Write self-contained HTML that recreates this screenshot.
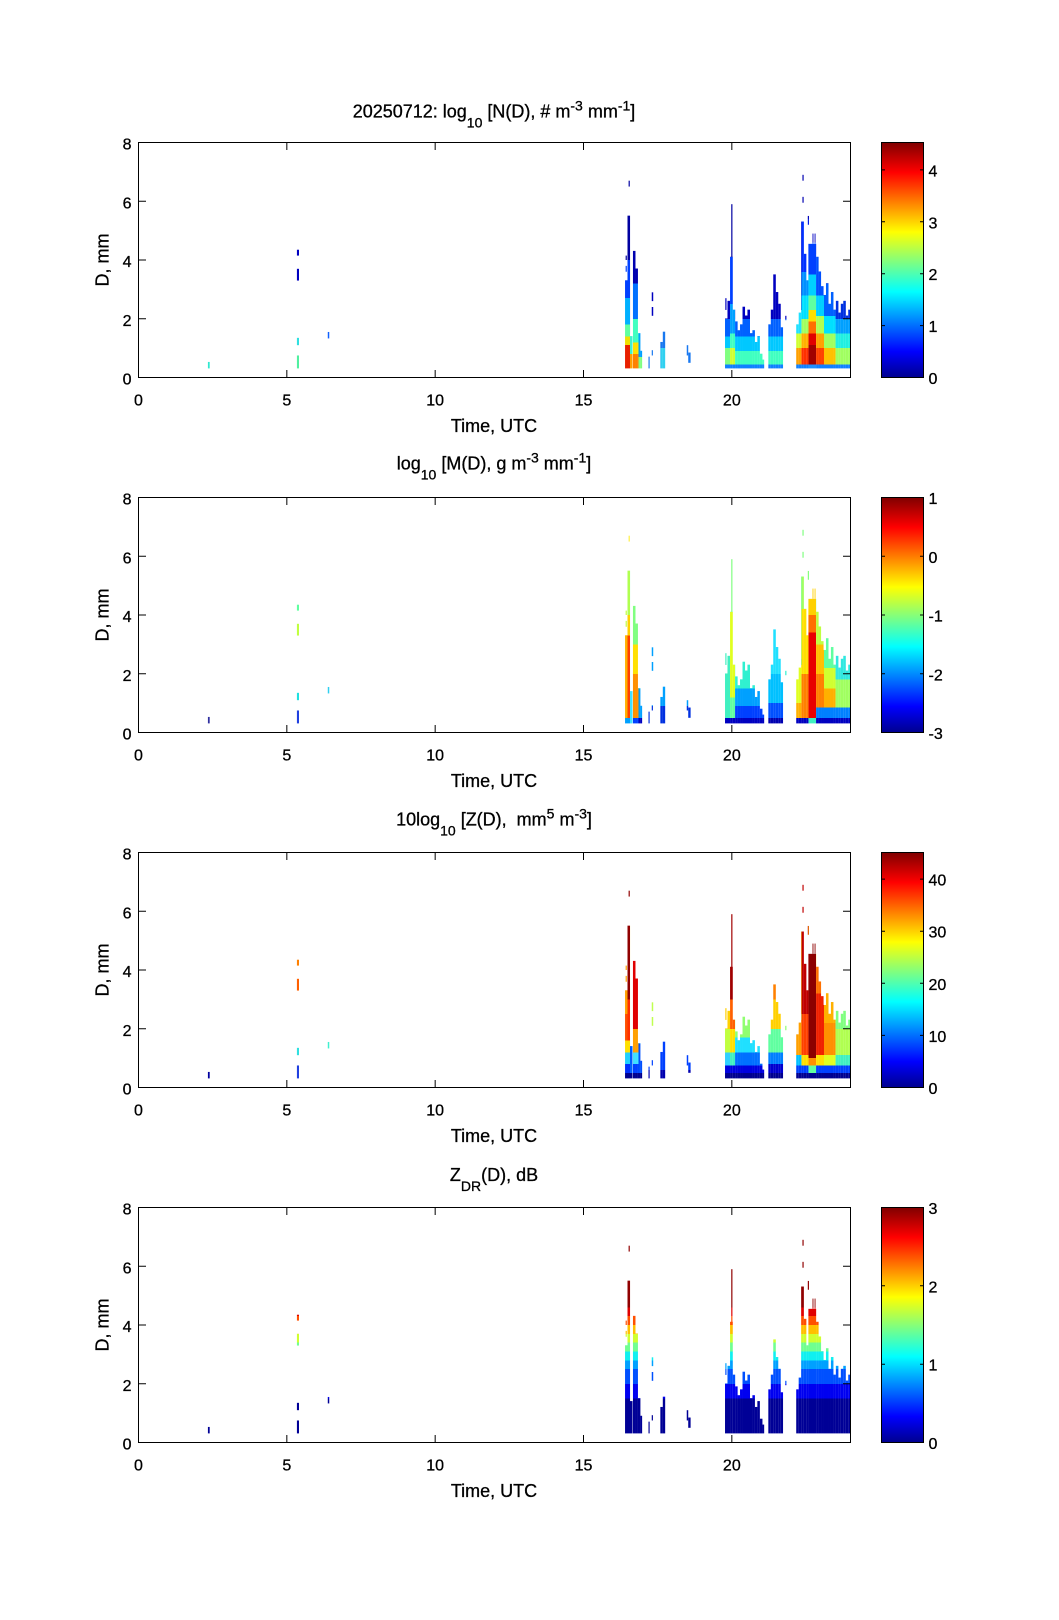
<!DOCTYPE html>
<html><head><meta charset="utf-8"><style>
html,body{margin:0;padding:0;background:#fff;}
svg{display:block;font-family:"Liberation Sans",Arial,Helvetica,sans-serif;}
text{fill:#000;stroke:#000;stroke-width:0.3px;}
</style></head><body>
<svg width="1059" height="1620" viewBox="0 0 1059 1620" xmlns="http://www.w3.org/2000/svg">
<defs>
<linearGradient id="jet" x1="0" y1="1" x2="0" y2="0">
<stop offset="0" stop-color="#00008F"/><stop offset="0.111" stop-color="#0000FF"/><stop offset="0.365" stop-color="#00FFFF"/><stop offset="0.619" stop-color="#FFFF00"/><stop offset="0.873" stop-color="#FF0000"/><stop offset="1" stop-color="#800000"/>
</linearGradient>
<clipPath id="m" clipPathUnits="userSpaceOnUse">
<rect x="2.34" y="0.31" width="0.06" height="0.22"/>
<rect x="5.34" y="0.31" width="0.07" height="0.44"/>
<rect x="5.34" y="1.1" width="0.07" height="0.25"/>
<rect x="5.34" y="3.3" width="0.07" height="0.4"/>
<rect x="5.34" y="4.15" width="0.07" height="0.2"/>
<rect x="6.38" y="1.33" width="0.05" height="0.22"/>
<rect x="16.40" y="0.31" width="0.085" height="3.0"/>
<rect x="16.42" y="3.6" width="0.04" height="0.2"/>
<rect x="16.42" y="4.0" width="0.04" height="0.15"/>
<rect x="16.483" y="0.31" width="0.086" height="5.2"/>
<rect x="16.52" y="6.5" width="0.04" height="0.2"/>
<rect x="16.567" y="0.31" width="0.085" height="1.1"/>
<rect x="16.667" y="0.31" width="0.085" height="4.0"/>
<rect x="16.75" y="0.31" width="0.085" height="3.4"/>
<rect x="16.833" y="0.31" width="0.085" height="1.2"/>
<rect x="16.916" y="0.31" width="0.06" height="0.6"/>
<rect x="17.19" y="0.31" width="0.04" height="0.4"/>
<rect x="17.30" y="2.1" width="0.05" height="0.3"/>
<rect x="17.30" y="2.6" width="0.05" height="0.3"/>
<rect x="17.30" y="0.75" width="0.04" height="0.18"/>
<rect x="17.59" y="0.31" width="0.085" height="0.9"/>
<rect x="17.673" y="0.31" width="0.08" height="1.25"/>
<rect x="18.48" y="0.75" width="0.05" height="0.35"/>
<rect x="18.53" y="0.5" width="0.08" height="0.35"/>
<rect x="19.77" y="0.31" width="0.085" height="1.7"/>
<rect x="19.78" y="2.3" width="0.04" height="0.4"/>
<rect x="19.853" y="0.31" width="0.089" height="2.3"/>
<rect x="19.94" y="0.31" width="0.092" height="3.8"/>
<rect x="19.98" y="4.1" width="0.04" height="1.8"/>
<rect x="20.03" y="0.31" width="0.082" height="2.0"/>
<rect x="20.11" y="0.31" width="0.085" height="1.6"/>
<rect x="20.193" y="0.31" width="0.085" height="1.3"/>
<rect x="20.276" y="0.31" width="0.086" height="1.5"/>
<rect x="20.36" y="0.31" width="0.085" height="2.1"/>
<rect x="20.443" y="0.31" width="0.085" height="1.8"/>
<rect x="20.526" y="0.31" width="0.086" height="2.0"/>
<rect x="20.61" y="0.31" width="0.085" height="1.2"/>
<rect x="20.693" y="0.31" width="0.085" height="1.3"/>
<rect x="20.776" y="0.31" width="0.086" height="0.9"/>
<rect x="20.86" y="0.31" width="0.085" height="1.1"/>
<rect x="20.943" y="0.31" width="0.089" height="0.5"/>
<rect x="21.03" y="0.31" width="0.06" height="0.3"/>
<rect x="21.23" y="0.31" width="0.085" height="1.5"/>
<rect x="21.313" y="0.31" width="0.085" height="2.0"/>
<rect x="21.396" y="0.31" width="0.086" height="3.2"/>
<rect x="21.48" y="0.31" width="0.085" height="2.6"/>
<rect x="21.563" y="0.31" width="0.085" height="2.2"/>
<rect x="21.646" y="0.31" width="0.08" height="1.4"/>
<rect x="21.80" y="1.95" width="0.04" height="0.15"/>
<rect x="22.17" y="0.31" width="0.085" height="1.5"/>
<rect x="22.253" y="0.31" width="0.085" height="1.9"/>
<rect x="22.336" y="0.31" width="0.092" height="5.0"/>
<rect x="22.38" y="5.95" width="0.04" height="0.2"/>
<rect x="22.38" y="6.7" width="0.04" height="0.2"/>
<rect x="22.426" y="0.31" width="0.086" height="3.9"/>
<rect x="22.51" y="0.31" width="0.072" height="3.0"/>
<rect x="22.56" y="5.2" width="0.04" height="0.3"/>
<rect x="22.58" y="0.31" width="0.262" height="4.24"/>
<rect x="22.72" y="4.55" width="0.03" height="0.35"/>
<rect x="22.79" y="4.55" width="0.03" height="0.35"/>
<rect x="22.84" y="0.31" width="0.085" height="3.8"/>
<rect x="22.923" y="0.31" width="0.085" height="3.3"/>
<rect x="23.006" y="0.31" width="0.086" height="2.8"/>
<rect x="23.09" y="0.31" width="0.085" height="2.5"/>
<rect x="23.173" y="0.31" width="0.085" height="2.9"/>
<rect x="23.256" y="0.31" width="0.086" height="2.2"/>
<rect x="23.34" y="0.31" width="0.085" height="2.6"/>
<rect x="23.423" y="0.31" width="0.085" height="2.0"/>
<rect x="23.506" y="0.31" width="0.086" height="2.3"/>
<rect x="23.59" y="0.31" width="0.085" height="1.9"/>
<rect x="23.673" y="0.31" width="0.085" height="2.2"/>
<rect x="23.756" y="0.31" width="0.086" height="2.3"/>
<rect x="23.84" y="0.31" width="0.085" height="1.8"/>
<rect x="23.923" y="0.31" width="0.077" height="2.0"/>
</clipPath>
</defs>
<rect x="0" y="0" width="1059" height="1620" fill="#fff"/>

<!-- PANEL 1 -->
<g>
<g transform="translate(138.5,377.5) scale(29.667,-29.375)"><g clip-path="url(#m)" shape-rendering="crispEdges">
<rect x="0" y="0.3" width="24" height="0.14" fill="#1080FF"/>
<rect x="0" y="0.44" width="24" height="0.46" fill="#40FFC0"/>
<rect x="0" y="0.9" width="24" height="0.5" fill="#00C8FF"/>
<rect x="0" y="1.4" width="24" height="0.6" fill="#0060FF"/>
<rect x="0" y="2.0" width="24" height="6" fill="#0000C0"/>
<rect x="2.3" y="0.3" width="0.15" height="0.3" fill="#30E8D0"/>
<rect x="5.3" y="0.3" width="0.15" height="0.5" fill="#50F0A0"/>
<rect x="5.3" y="1.0" width="0.15" height="0.4" fill="#30E0E0"/>
<rect x="6.3" y="1.2" width="0.2" height="0.5" fill="#1060FF"/>
<rect x="17.1" y="0.3" width="1.6" height="1.7" fill="#1878F0"/>
<rect x="17.6" y="0.3" width="0.2" height="0.7" fill="#30D0F0"/>
<rect x="16.35" y="0.3" width="0.22" height="0.8" fill="#E82000"/>
<rect x="16.35" y="1.1" width="0.22" height="0.3" fill="#F0E000"/>
<rect x="16.35" y="1.4" width="0.22" height="0.4" fill="#60FFA0"/>
<rect x="16.35" y="1.8" width="0.22" height="0.9" fill="#00B0FF"/>
<rect x="16.35" y="2.7" width="0.22" height="1.3" fill="#0040FF"/>
<rect x="16.35" y="4.0" width="0.22" height="4" fill="#0000A0"/>
<rect x="16.57" y="0.3" width="0.08" height="0.5" fill="#FFA000"/>
<rect x="16.57" y="0.8" width="0.08" height="0.7" fill="#40F0D0"/>
<rect x="16.65" y="0.3" width="0.2" height="0.5" fill="#FF8000"/>
<rect x="16.65" y="0.8" width="0.2" height="0.4" fill="#FFE000"/>
<rect x="16.65" y="1.2" width="0.2" height="0.8" fill="#40FFC0"/>
<rect x="16.65" y="2.0" width="0.2" height="1.2" fill="#0070FF"/>
<rect x="16.65" y="3.2" width="0.2" height="4" fill="#0000B0"/>
<rect x="16.85" y="0.3" width="0.15" height="0.4" fill="#80FF80"/>
<rect x="16.85" y="0.7" width="0.15" height="1.3" fill="#00A0FF"/>
<rect x="19.77" y="0.44" width="0.17" height="0.56" fill="#80FF80"/>
<rect x="19.94" y="0.44" width="0.17" height="0.56" fill="#D0FF30"/>
<rect x="19.94" y="1.0" width="0.17" height="0.5" fill="#40FFC0"/>
<rect x="19.94" y="1.5" width="0.17" height="1.0" fill="#00A0FF"/>
<rect x="19.94" y="2.5" width="0.17" height="1.6" fill="#0040FF"/>
<rect x="19.94" y="4.1" width="0.17" height="4" fill="#0000A0"/>
<rect x="22.17" y="0.44" width="0.17" height="0.56" fill="#FFA000"/>
<rect x="22.17" y="1.0" width="0.17" height="0.5" fill="#D0FF30"/>
<rect x="22.17" y="1.5" width="0.17" height="0.8" fill="#20E0FF"/>
<rect x="22.34" y="0.44" width="0.24" height="0.56" fill="#FF3000"/>
<rect x="22.34" y="1.0" width="0.24" height="0.5" fill="#FFB000"/>
<rect x="22.34" y="1.5" width="0.24" height="0.5" fill="#A0FF60"/>
<rect x="22.34" y="2.0" width="0.24" height="0.8" fill="#00E0FF"/>
<rect x="22.34" y="2.8" width="0.24" height="0.8" fill="#0090FF"/>
<rect x="22.34" y="3.6" width="0.24" height="1.8" fill="#0030FF"/>
<rect x="22.34" y="5.4" width="0.24" height="3" fill="#0000B0"/>
<rect x="22.58" y="0.3" width="0.26" height="0.14" fill="#2090FF"/>
<rect x="22.58" y="0.44" width="0.26" height="0.66" fill="#A00000"/>
<rect x="22.58" y="1.1" width="0.26" height="0.4" fill="#E00000"/>
<rect x="22.58" y="1.5" width="0.26" height="0.4" fill="#FF7000"/>
<rect x="22.58" y="1.9" width="0.26" height="0.4" fill="#FFE000"/>
<rect x="22.58" y="2.3" width="0.26" height="0.5" fill="#60FFA0"/>
<rect x="22.58" y="2.8" width="0.26" height="0.7" fill="#00D0FF"/>
<rect x="22.58" y="3.5" width="0.26" height="1.1" fill="#0040FF"/>
<rect x="22.58" y="4.6" width="0.26" height="3" fill="#0000C0"/>
<rect x="22.84" y="0.44" width="0.26" height="0.56" fill="#FF4000"/>
<rect x="22.84" y="1.0" width="0.26" height="0.5" fill="#FFA000"/>
<rect x="22.84" y="1.5" width="0.26" height="0.6" fill="#B0FF50"/>
<rect x="22.84" y="2.1" width="0.26" height="0.7" fill="#00D0FF"/>
<rect x="22.84" y="2.8" width="0.26" height="1.4" fill="#0050FF"/>
<rect x="23.1" y="0.44" width="0.4" height="0.56" fill="#FFC000"/>
<rect x="23.1" y="1.0" width="0.4" height="0.5" fill="#A0FF60"/>
<rect x="23.1" y="1.5" width="0.4" height="0.6" fill="#00E0FF"/>
<rect x="23.1" y="2.1" width="0.4" height="1.1" fill="#0060FF"/>
<rect x="23.5" y="0.44" width="0.5" height="0.56" fill="#A0FF60"/>
<rect x="23.5" y="1.0" width="0.5" height="0.5" fill="#20F0E0"/>
<rect x="23.5" y="1.5" width="0.5" height="0.5" fill="#00A0FF"/>
<rect x="23.5" y="2.0" width="0.5" height="0.8" fill="#0030E0"/>
</g></g>
<path d="M138.5 377.5V370M286.83 377.5V370M435.17 377.5V370M583.5 377.5V370M731.83 377.5V370M286.83 142.5V150M435.17 142.5V150M583.5 142.5V150M731.83 142.5V150M138.5 318.75H146M138.5 260H146M138.5 201.25H146M850.5 318.75H843M850.5 260H843M850.5 201.25H843" stroke="#000" stroke-width="1" fill="none"/>
<rect x="138.5" y="142.5" width="712" height="235" fill="none" stroke="#000" stroke-width="1"/>
<g font-size="16" text-anchor="middle">
<text x="138.5" y="405.5">0</text><text x="286.83" y="405.5">5</text><text x="435.17" y="405.5">10</text><text x="583.5" y="405.5">15</text><text x="731.83" y="405.5">20</text>
</g>
<g font-size="16" text-anchor="end">
<text x="131.5" y="384.5">0</text><text x="131.5" y="325.75">2</text><text x="131.5" y="267">4</text><text x="131.5" y="208.25">6</text><text x="131.5" y="149.5">8</text>
</g>
<text x="494" y="431.8" font-size="18" text-anchor="middle">Time, UTC</text>
<text transform="translate(108.5,260) rotate(-90)" font-size="18" text-anchor="middle">D, mm</text>
<text x="494" y="117.5" font-size="18" text-anchor="middle">20250712: log<tspan font-size="14" dy="10">10</tspan><tspan dy="-10"> [N(D), # m</tspan><tspan font-size="14" dy="-7">-3</tspan><tspan dy="7"> mm</tspan><tspan font-size="14" dy="-7">-1</tspan><tspan dy="7">]</tspan></text>
<rect x="881.5" y="142.5" width="42" height="235" fill="url(#jet)" stroke="#000" stroke-width="1"/>
<path d="M881.5 325.6h3.5M881.5 273.7h3.5M881.5 221.8h3.5M881.5 169.9h3.5M923.5 325.6h-3.5M923.5 273.7h-3.5M923.5 221.8h-3.5M923.5 169.9h-3.5" stroke="#000" stroke-width="1"/>
<g font-size="16">
<text x="928.5" y="384">0</text><text x="928.5" y="332.1">1</text><text x="928.5" y="280.2">2</text><text x="928.5" y="228.3">3</text><text x="928.5" y="176.4">4</text>
</g>
</g>

<!-- PANEL 2 -->
<g transform="translate(0,355)">
<g transform="translate(138.5,377.5) scale(29.667,-29.375)"><g clip-path="url(#m)" shape-rendering="crispEdges">
<rect x="0" y="0.3" width="24" height="0.2" fill="#0000C0"/>
<rect x="0" y="0.5" width="24" height="0.4" fill="#0040FF"/>
<rect x="0" y="0.9" width="24" height="0.6" fill="#00A0FF"/>
<rect x="0" y="1.5" width="24" height="1.0" fill="#30F0D0"/>
<rect x="0" y="2.5" width="24" height="6" fill="#60FFA0"/>
<rect x="2.3" y="0.3" width="0.15" height="0.3" fill="#3030A0"/>
<rect x="5.3" y="0.3" width="0.15" height="0.5" fill="#2040E0"/>
<rect x="5.3" y="1.0" width="0.15" height="0.4" fill="#20E0E0"/>
<rect x="5.3" y="3.2" width="0.15" height="0.6" fill="#C0FF40"/>
<rect x="5.3" y="4.1" width="0.15" height="0.3" fill="#60FFA0"/>
<rect x="6.3" y="1.2" width="0.2" height="0.5" fill="#30D0F0"/>
<rect x="17.1" y="0.3" width="1.6" height="0.6" fill="#0030E0"/>
<rect x="17.1" y="0.9" width="1.6" height="2.1" fill="#00A0FF"/>
<rect x="16.35" y="0.3" width="0.133" height="0.2" fill="#00A0FF"/>
<rect x="16.35" y="0.5" width="0.133" height="2.9" fill="#FFB000"/>
<rect x="16.35" y="3.4" width="0.133" height="0.9" fill="#C0FF40"/>
<rect x="16.483" y="0.3" width="0.084" height="0.2" fill="#00A0FF"/>
<rect x="16.483" y="0.5" width="0.084" height="2.8" fill="#FF4000"/>
<rect x="16.483" y="3.3" width="0.084" height="0.7" fill="#FFD000"/>
<rect x="16.483" y="4.0" width="0.084" height="1.6" fill="#B0FF50"/>
<rect x="16.483" y="6.3" width="0.084" height="0.7" fill="#FFF040"/>
<rect x="16.567" y="0.3" width="0.083" height="1.2" fill="#40E0FF"/>
<rect x="16.65" y="0.3" width="0.2" height="0.2" fill="#0040FF"/>
<rect x="16.65" y="0.5" width="0.2" height="1.5" fill="#FF9000"/>
<rect x="16.65" y="2.0" width="0.2" height="1.0" fill="#FFE000"/>
<rect x="16.65" y="3.0" width="0.2" height="1.4" fill="#80FF80"/>
<rect x="16.85" y="0.3" width="0.15" height="0.2" fill="#0000C0"/>
<rect x="16.85" y="0.5" width="0.15" height="1.0" fill="#00A0FF"/>
<rect x="19.77" y="0.5" width="0.17" height="2.5" fill="#40F0C0"/>
<rect x="19.94" y="0.5" width="0.17" height="0.7" fill="#60FFA0"/>
<rect x="19.94" y="1.2" width="0.17" height="2.9" fill="#E0FF20"/>
<rect x="19.94" y="4.1" width="0.17" height="2.1" fill="#80FF80"/>
<rect x="21.2" y="0.3" width="0.55" height="0.2" fill="#0000B0"/>
<rect x="21.2" y="0.5" width="0.55" height="0.5" fill="#0050FF"/>
<rect x="21.2" y="1.0" width="0.55" height="1.0" fill="#00C0FF"/>
<rect x="21.2" y="2.0" width="0.55" height="1.6" fill="#20E0FF"/>
<rect x="22.17" y="0.5" width="0.17" height="0.5" fill="#FFB000"/>
<rect x="22.17" y="1.0" width="0.17" height="1.3" fill="#E0FF20"/>
<rect x="22.34" y="0.5" width="0.24" height="1.5" fill="#FF8000"/>
<rect x="22.34" y="2.0" width="0.24" height="2.2" fill="#FFE000"/>
<rect x="22.34" y="4.2" width="0.24" height="1.3" fill="#A0FF60"/>
<rect x="22.34" y="5.5" width="0.24" height="1.5" fill="#80FF80"/>
<rect x="22.58" y="0.3" width="0.26" height="0.2" fill="#40F0C0"/>
<rect x="22.58" y="0.5" width="0.26" height="2.9" fill="#E80000"/>
<rect x="22.58" y="3.4" width="0.26" height="0.6" fill="#FF7000"/>
<rect x="22.58" y="4.0" width="0.26" height="1.0" fill="#FFD000"/>
<rect x="22.84" y="0.5" width="1.16" height="0.35" fill="#0080FF"/>
<rect x="22.84" y="0.85" width="0.26" height="1.15" fill="#FF8000"/>
<rect x="22.84" y="2.0" width="0.26" height="1.0" fill="#FFC000"/>
<rect x="22.84" y="3.0" width="0.26" height="1.2" fill="#C0FF40"/>
<rect x="23.1" y="0.85" width="0.4" height="0.65" fill="#FFB000"/>
<rect x="23.1" y="1.5" width="0.4" height="0.7" fill="#D0FF30"/>
<rect x="23.1" y="2.2" width="0.4" height="1.1" fill="#60FFA0"/>
<rect x="23.5" y="0.85" width="0.5" height="0.95" fill="#A0FF60"/>
<rect x="23.5" y="1.8" width="0.5" height="1.0" fill="#30E8E0"/>
</g></g>
<path d="M138.5 377.5V370M286.83 377.5V370M435.17 377.5V370M583.5 377.5V370M731.83 377.5V370M286.83 142.5V150M435.17 142.5V150M583.5 142.5V150M731.83 142.5V150M138.5 318.75H146M138.5 260H146M138.5 201.25H146M850.5 318.75H843M850.5 260H843M850.5 201.25H843" stroke="#000" stroke-width="1" fill="none"/>
<rect x="138.5" y="142.5" width="712" height="235" fill="none" stroke="#000" stroke-width="1"/>
<g font-size="16" text-anchor="middle">
<text x="138.5" y="405.5">0</text><text x="286.83" y="405.5">5</text><text x="435.17" y="405.5">10</text><text x="583.5" y="405.5">15</text><text x="731.83" y="405.5">20</text>
</g>
<g font-size="16" text-anchor="end">
<text x="131.5" y="384.5">0</text><text x="131.5" y="325.75">2</text><text x="131.5" y="267">4</text><text x="131.5" y="208.25">6</text><text x="131.5" y="149.5">8</text>
</g>
<text x="494" y="431.8" font-size="18" text-anchor="middle">Time, UTC</text>
<text transform="translate(108.5,260) rotate(-90)" font-size="18" text-anchor="middle">D, mm</text>
<text x="494" y="114.5" font-size="18" text-anchor="middle">log<tspan font-size="14" dy="10">10</tspan><tspan dy="-10"> [M(D), g m</tspan><tspan font-size="14" dy="-7">-3</tspan><tspan dy="7"> mm</tspan><tspan font-size="14" dy="-7">-1</tspan><tspan dy="7">]</tspan></text>
<rect x="881.5" y="142.5" width="42" height="235" fill="url(#jet)" stroke="#000" stroke-width="1"/>
<path d="M881.5 318.75h3.5M881.5 260h3.5M881.5 201.25h3.5M923.5 318.75h-3.5M923.5 260h-3.5M923.5 201.25h-3.5" stroke="#000" stroke-width="1"/>
<g font-size="16">
<text x="928.5" y="384">-3</text><text x="928.5" y="325.25">-2</text><text x="928.5" y="266.5">-1</text><text x="928.5" y="207.75">0</text><text x="928.5" y="149">1</text>
</g>
</g>

<!-- PANEL 3 -->
<g transform="translate(0,710)">
<g transform="translate(138.5,377.5) scale(29.667,-29.375)"><g clip-path="url(#m)" shape-rendering="crispEdges">
<rect x="0" y="0.3" width="24" height="0.2" fill="#000090"/>
<rect x="0" y="0.5" width="24" height="0.25" fill="#0000E0"/>
<rect x="0" y="0.75" width="24" height="0.45" fill="#0070FF"/>
<rect x="0" y="1.2" width="24" height="0.5" fill="#20E0FF"/>
<rect x="0" y="1.7" width="24" height="0.8" fill="#90FF70"/>
<rect x="0" y="2.5" width="24" height="6" fill="#FFD000"/>
<rect x="2.3" y="0.3" width="0.15" height="0.3" fill="#0000A0"/>
<rect x="5.3" y="0.3" width="0.15" height="0.5" fill="#2040E0"/>
<rect x="5.3" y="1.0" width="0.15" height="0.4" fill="#30E0E0"/>
<rect x="5.3" y="3.2" width="0.15" height="0.6" fill="#FF6000"/>
<rect x="5.3" y="4.1" width="0.15" height="0.3" fill="#FF8000"/>
<rect x="6.3" y="1.2" width="0.2" height="0.5" fill="#40F0D0"/>
<rect x="17.1" y="0.3" width="1.6" height="0.3" fill="#0000B0"/>
<rect x="17.1" y="0.6" width="1.6" height="1.0" fill="#0040FF"/>
<rect x="17.1" y="1.6" width="1.6" height="1.4" fill="#C0FF50"/>
<rect x="16.35" y="0.5" width="0.217" height="0.3" fill="#0030FF"/>
<rect x="16.35" y="0.8" width="0.217" height="0.4" fill="#20D0FF"/>
<rect x="16.35" y="1.2" width="0.217" height="0.4" fill="#FFE000"/>
<rect x="16.35" y="1.6" width="0.133" height="0.9" fill="#FF5000"/>
<rect x="16.35" y="2.5" width="0.133" height="1.8" fill="#FFA000"/>
<rect x="16.483" y="1.6" width="0.084" height="1.4" fill="#FF3000"/>
<rect x="16.483" y="3.0" width="0.084" height="4" fill="#900000"/>
<rect x="16.567" y="0.5" width="0.083" height="1.0" fill="#0060FF"/>
<rect x="16.65" y="0.5" width="0.2" height="0.3" fill="#0040FF"/>
<rect x="16.65" y="0.8" width="0.2" height="0.4" fill="#40E0FF"/>
<rect x="16.65" y="1.2" width="0.2" height="0.8" fill="#FFA000"/>
<rect x="16.65" y="2.0" width="0.2" height="2.4" fill="#E00000"/>
<rect x="16.85" y="0.5" width="0.15" height="1.0" fill="#0050FF"/>
<rect x="19.77" y="0.75" width="0.17" height="0.45" fill="#30D0FF"/>
<rect x="19.77" y="1.2" width="0.17" height="0.8" fill="#C0FF40"/>
<rect x="19.77" y="2.0" width="0.17" height="1.0" fill="#FFD000"/>
<rect x="19.94" y="0.75" width="0.17" height="0.45" fill="#40F0C0"/>
<rect x="19.94" y="1.2" width="0.17" height="0.8" fill="#FFE000"/>
<rect x="19.94" y="2.0" width="0.17" height="1.0" fill="#FF6000"/>
<rect x="19.94" y="3.0" width="0.17" height="3.2" fill="#A00000"/>
<rect x="21.2" y="0.5" width="0.55" height="0.3" fill="#0000D0"/>
<rect x="21.2" y="0.8" width="0.55" height="0.4" fill="#0080FF"/>
<rect x="21.2" y="1.2" width="0.55" height="0.8" fill="#60FFA0"/>
<rect x="21.2" y="2.0" width="0.55" height="1.0" fill="#FFD000"/>
<rect x="21.2" y="3.0" width="0.55" height="0.6" fill="#FF8000"/>
<rect x="22.17" y="0.5" width="1.83" height="0.25" fill="#0040FF"/>
<rect x="22.17" y="0.75" width="0.17" height="0.35" fill="#00C0FF"/>
<rect x="22.17" y="1.1" width="0.17" height="1.2" fill="#FFA000"/>
<rect x="22.34" y="0.75" width="0.24" height="0.35" fill="#FFE000"/>
<rect x="22.34" y="1.1" width="0.24" height="1.4" fill="#FF4000"/>
<rect x="22.34" y="2.5" width="0.24" height="4.5" fill="#C00000"/>
<rect x="22.58" y="0.5" width="0.26" height="0.25" fill="#60FFA0"/>
<rect x="22.58" y="0.75" width="0.26" height="0.25" fill="#FF9000"/>
<rect x="22.58" y="1.0" width="0.26" height="4" fill="#8C0000"/>
<rect x="22.84" y="0.75" width="0.26" height="0.35" fill="#FFE000"/>
<rect x="22.84" y="1.1" width="0.26" height="2.1" fill="#F02000"/>
<rect x="22.84" y="3.2" width="0.26" height="1.0" fill="#FF7000"/>
<rect x="23.1" y="0.75" width="0.4" height="0.35" fill="#E0FF20"/>
<rect x="23.1" y="1.1" width="0.4" height="1.1" fill="#FF9000"/>
<rect x="23.1" y="2.2" width="0.4" height="1.1" fill="#FFB000"/>
<rect x="23.5" y="0.75" width="0.5" height="0.35" fill="#40F0C0"/>
<rect x="23.5" y="1.1" width="0.5" height="0.9" fill="#B0FF50"/>
<rect x="23.5" y="2.0" width="0.5" height="0.8" fill="#80FF80"/>
</g></g>
<path d="M138.5 377.5V370M286.83 377.5V370M435.17 377.5V370M583.5 377.5V370M731.83 377.5V370M286.83 142.5V150M435.17 142.5V150M583.5 142.5V150M731.83 142.5V150M138.5 318.75H146M138.5 260H146M138.5 201.25H146M850.5 318.75H843M850.5 260H843M850.5 201.25H843" stroke="#000" stroke-width="1" fill="none"/>
<rect x="138.5" y="142.5" width="712" height="235" fill="none" stroke="#000" stroke-width="1"/>
<g font-size="16" text-anchor="middle">
<text x="138.5" y="405.5">0</text><text x="286.83" y="405.5">5</text><text x="435.17" y="405.5">10</text><text x="583.5" y="405.5">15</text><text x="731.83" y="405.5">20</text>
</g>
<g font-size="16" text-anchor="end">
<text x="131.5" y="384.5">0</text><text x="131.5" y="325.75">2</text><text x="131.5" y="267">4</text><text x="131.5" y="208.25">6</text><text x="131.5" y="149.5">8</text>
</g>
<text x="494" y="431.8" font-size="18" text-anchor="middle">Time, UTC</text>
<text transform="translate(108.5,260) rotate(-90)" font-size="18" text-anchor="middle">D, mm</text>
<text x="494" y="115.5" font-size="18" text-anchor="middle">10log<tspan font-size="14" dy="10">10</tspan><tspan dy="-10"> [Z(D),&#160; mm</tspan><tspan font-size="14" dy="-7">5</tspan><tspan dy="7"> m</tspan><tspan font-size="14" dy="-7">-3</tspan><tspan dy="7">]</tspan></text>
<rect x="881.5" y="142.5" width="42" height="235" fill="url(#jet)" stroke="#000" stroke-width="1"/>
<path d="M881.5 325.4h3.5M881.5 273.3h3.5M881.5 221.2h3.5M881.5 169.1h3.5M923.5 325.4h-3.5M923.5 273.3h-3.5M923.5 221.2h-3.5M923.5 169.1h-3.5" stroke="#000" stroke-width="1"/>
<g font-size="16">
<text x="928.5" y="384">0</text><text x="928.5" y="331.9">10</text><text x="928.5" y="279.8">20</text><text x="928.5" y="227.7">30</text><text x="928.5" y="175.6">40</text>
</g>
</g>

<!-- PANEL 4 -->
<g transform="translate(0,1065)">
<g transform="translate(138.5,377.5) scale(29.667,-29.375)"><g clip-path="url(#m)" shape-rendering="crispEdges">
<rect x="0" y="0.3" width="24" height="1.2" fill="#000096"/>
<rect x="0" y="1.5" width="24" height="0.5" fill="#0000F0"/>
<rect x="0" y="2.0" width="24" height="0.5" fill="#0050FF"/>
<rect x="0" y="2.5" width="24" height="0.3" fill="#00A0FF"/>
<rect x="0" y="2.8" width="24" height="0.3" fill="#10F0F0"/>
<rect x="0" y="3.1" width="24" height="0.3" fill="#70FF90"/>
<rect x="0" y="3.4" width="24" height="0.3" fill="#D0FF30"/>
<rect x="0" y="3.7" width="24" height="0.3" fill="#FFC000"/>
<rect x="0" y="4.0" width="24" height="0.3" fill="#FF5000"/>
<rect x="0" y="4.3" width="24" height="0.3" fill="#E00000"/>
<rect x="0" y="4.6" width="24" height="4" fill="#900000"/>
</g></g>
<path d="M138.5 377.5V370M286.83 377.5V370M435.17 377.5V370M583.5 377.5V370M731.83 377.5V370M286.83 142.5V150M435.17 142.5V150M583.5 142.5V150M731.83 142.5V150M138.5 318.75H146M138.5 260H146M138.5 201.25H146M850.5 318.75H843M850.5 260H843M850.5 201.25H843" stroke="#000" stroke-width="1" fill="none"/>
<rect x="138.5" y="142.5" width="712" height="235" fill="none" stroke="#000" stroke-width="1"/>
<g font-size="16" text-anchor="middle">
<text x="138.5" y="405.5">0</text><text x="286.83" y="405.5">5</text><text x="435.17" y="405.5">10</text><text x="583.5" y="405.5">15</text><text x="731.83" y="405.5">20</text>
</g>
<g font-size="16" text-anchor="end">
<text x="131.5" y="384.5">0</text><text x="131.5" y="325.75">2</text><text x="131.5" y="267">4</text><text x="131.5" y="208.25">6</text><text x="131.5" y="149.5">8</text>
</g>
<text x="494" y="431.8" font-size="18" text-anchor="middle">Time, UTC</text>
<text transform="translate(108.5,260) rotate(-90)" font-size="18" text-anchor="middle">D, mm</text>
<text x="494" y="116" font-size="18" text-anchor="middle">Z<tspan font-size="14" dy="10">DR</tspan><tspan dy="-10">(D), dB</tspan></text>
<rect x="881.5" y="142.5" width="42" height="235" fill="url(#jet)" stroke="#000" stroke-width="1"/>
<path d="M881.5 299.2h3.5M881.5 220.8h3.5M923.5 299.2h-3.5M923.5 220.8h-3.5" stroke="#000" stroke-width="1"/>
<g font-size="16">
<text x="928.5" y="384">0</text><text x="928.5" y="305.7">1</text><text x="928.5" y="227.3">2</text><text x="928.5" y="149">3</text>
</g>
</g>
</svg>
</body></html>
